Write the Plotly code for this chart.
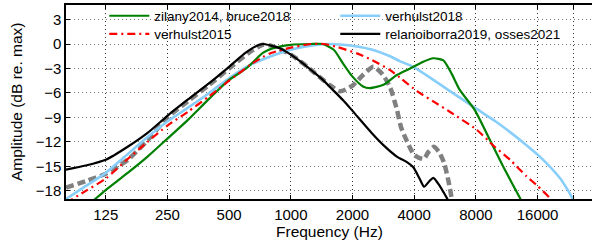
import plotly.graph_objects as go

# ---------------- data ----------------
f_zil = [80, 100, 111, 125, 160, 200, 250, 315, 400, 500, 606, 730, 800, 1000, 1250, 1430, 1620, 1800, 2000,
         2250, 2430, 2830, 3290, 3820, 4400, 4960, 5550, 6080, 6660, 7900, 9380, 10880, 13200, 14500]
a_zil = [-21.6, -20.0, -19.0, -17.9, -15.8, -13.8, -11.6, -9.3, -6.7, -4.4, -3.0, -1.1, -0.6, -0.1, 0.0, 0.0, -0.7,
         -2.4, -4.0, -5.2, -5.4, -5.0, -3.8, -3.0, -2.2, -1.75, -2.0, -3.6, -5.6, -8.1, -11.8, -15.05, -19.0, -21.0]

f_v15 = [80, 100, 125, 160, 200, 250, 315, 400, 500, 630, 730, 800, 1000, 1250, 1450, 1700, 2100, 2500, 3050,
         3400, 4140, 5000, 5960, 8060, 9780, 11740, 14100, 16000, 18600, 20000]
a_v15 = [-19.5, -18.0, -16.5, -14.1, -12.0, -10.0, -8.3, -6.4, -4.5, -2.6, -1.6, -1.1, -0.45, 0.0, 0.0, -0.4,
         -1.15, -2.0, -3.2, -4.1, -5.8, -7.1, -8.3, -10.5, -12.5, -14.2, -16.2, -17.4, -19.0, -19.8]

f_v18 = [80, 100, 125, 160, 200, 250, 315, 400, 500, 630, 800, 1000, 1250, 1500, 1800, 2100, 2500, 3050, 3400,
         3960, 4960, 6000, 8000, 10000, 11740, 13500, 16400, 20500, 22200, 24000, 26000]
a_v18 = [-19.0, -17.4, -15.8, -13.5, -11.4, -9.5, -7.8, -6.0, -4.2, -2.6, -1.5, -0.7, -0.2, 0.0, -0.1, -0.3, -0.7,
         -1.5, -2.1, -2.8, -4.4, -5.8, -7.9, -9.5, -10.8, -12.0, -13.8, -16.4, -17.7, -19.2, -21.0]

f_rel = [80, 100, 125, 160, 200, 250, 315, 400, 500, 600, 700, 740, 800, 900, 1000, 1150, 1300, 1420, 1600, 1800,
         2000, 2500, 2830, 3290, 3700, 3960, 4250, 4470, 4750, 4960, 5300, 5600, 5900, 6200]
a_rel = [-15.4, -14.9, -14.2, -12.6, -10.9, -8.8, -6.8, -4.8, -2.8, -1.1, -0.1, 0.0, -0.2, -0.6, -1.3, -2.4, -3.5,
         -4.3, -5.6, -6.9, -8.2, -11.0, -12.4, -13.8, -14.5, -15.1, -16.5, -17.5, -16.8, -16.4, -17.3, -18.3, -19.3, -20.3]

f_gray = [80, 100, 125, 160, 200, 250, 315, 400, 500, 630, 730, 800, 1000, 1150, 1300, 1420, 1540, 1740, 2000,
          2250, 2530, 2800, 3050, 3290, 3450, 3700, 4000, 4450, 4700, 5000, 5300, 5600, 5900, 6150]
a_gray = [-17.6, -16.8, -15.9, -14.2, -11.8, -9.0, -7.0, -5.0, -3.0, -1.0, -0.1, -0.2, -1.3, -2.4, -3.5, -4.3,
          -5.0, -5.8, -5.1, -3.8, -2.8, -3.7, -5.3, -8.0, -10.2, -12.0, -13.6, -14.1, -13.2, -12.6, -13.3, -14.6,
          -17.0, -19.5]

x_ticks = [125, 250, 500, 1000, 2000, 4000, 8000, 16000, 24000]
x_ticklabels = ["125", "250", "500", "1000", "2000", "4000", "8000", "16000", ""]
y_ticks = [-18, -15, -12, -9, -6, -3, 0, 3]
y_ticklabels = ["\u221218", "\u221215", "\u221212", "\u22129", "\u22126", "\u22123", "0", "3"]

FONT = "Liberation Sans, Arial, Helvetica, sans-serif"

fig = go.Figure()
fig.add_trace(go.Scatter(x=f_gray, y=a_gray, mode="lines", showlegend=False,
                         line=dict(color="#808080", width=4.5, dash="8px,4px", shape="spline", smoothing=0.6)))
fig.add_trace(go.Scatter(x=f_v18, y=a_v18, mode="lines", name="verhulst2018", legend="legend",
                         line=dict(color="#87CEFA", width=2.6, shape="spline", smoothing=0.6)))
fig.add_trace(go.Scatter(x=f_zil, y=a_zil, mode="lines", name="zilany2014, bruce2018", legend="legend",
                         line=dict(color="#008000", width=2.2, shape="spline", smoothing=0.6)))
fig.add_trace(go.Scatter(x=f_v15, y=a_v15, mode="lines", name="verhulst2015", legend="legend2",
                         line=dict(color="#FF0000", width=2.2, dash="8px,4px,2px,4px", shape="spline", smoothing=0.6)))
fig.add_trace(go.Scatter(x=f_rel, y=a_rel, mode="lines", name="relanoiborra2019, osses2021", legend="legend2",
                         line=dict(color="#000000", width=2.2, shape="spline", smoothing=0.6)))

leg_common = dict(orientation="h", xanchor="left", yanchor="middle",
                  bgcolor="rgba(0,0,0,0)", font=dict(size=13.5, family=FONT),
                  itemwidth=40, entrywidth=176, entrywidthmode="pixels",
                  tracegroupgap=0)

fig.update_layout(
    width=592, height=247,
    margin=dict(l=66, r=0, t=5, b=48),
    paper_bgcolor="white", plot_bgcolor="white",
    font=dict(family=FONT, size=15, color="black"),
    showlegend=True,
    legend=dict(x=0.0728, y=0.9433, traceorder="reversed", **leg_common),
    legend2=dict(x=0.0728, y=0.8505, traceorder="normal", **leg_common),
    xaxis=dict(type="log", range=[1.90309, 4.4695], tickvals=x_ticks, ticktext=x_ticklabels,
               showline=True, linecolor="black", linewidth=1.5, mirror="ticks",
               ticks="inside", ticklen=4, tickcolor="black",
               showgrid=True, gridcolor="#333333", gridwidth=1, griddash="1px,3px",
               zeroline=False, tickfont=dict(size=15), ticklabelstandoff=1),
    yaxis=dict(range=[-19, 4.78], tickvals=y_ticks, ticktext=y_ticklabels,
               showline=True, linecolor="black", linewidth=1.5,
               ticks="inside", ticklen=4, tickcolor="black",
               showgrid=True, gridcolor="#777777", gridwidth=1, griddash="1px,3px",
               zeroline=False, tickfont=dict(size=15)),
    annotations=[
        dict(text="Frequency (Hz)", xref="paper", yref="paper", x=0.5, y=-0.1675,
             xanchor="center", yanchor="middle", showarrow=False, font=dict(size=15.5)),
        dict(text="Amplitude (dB re. max)", xref="paper", yref="paper", x=-0.095, y=0.5,
             xanchor="center", yanchor="middle", textangle=-90, showarrow=False, font=dict(size=15.5)),
    ],
)

fig.write_html("out.html", config={"displayModeBar": False},
               post_script="document.body.style.margin='0';document.body.style.overflow='hidden';")
